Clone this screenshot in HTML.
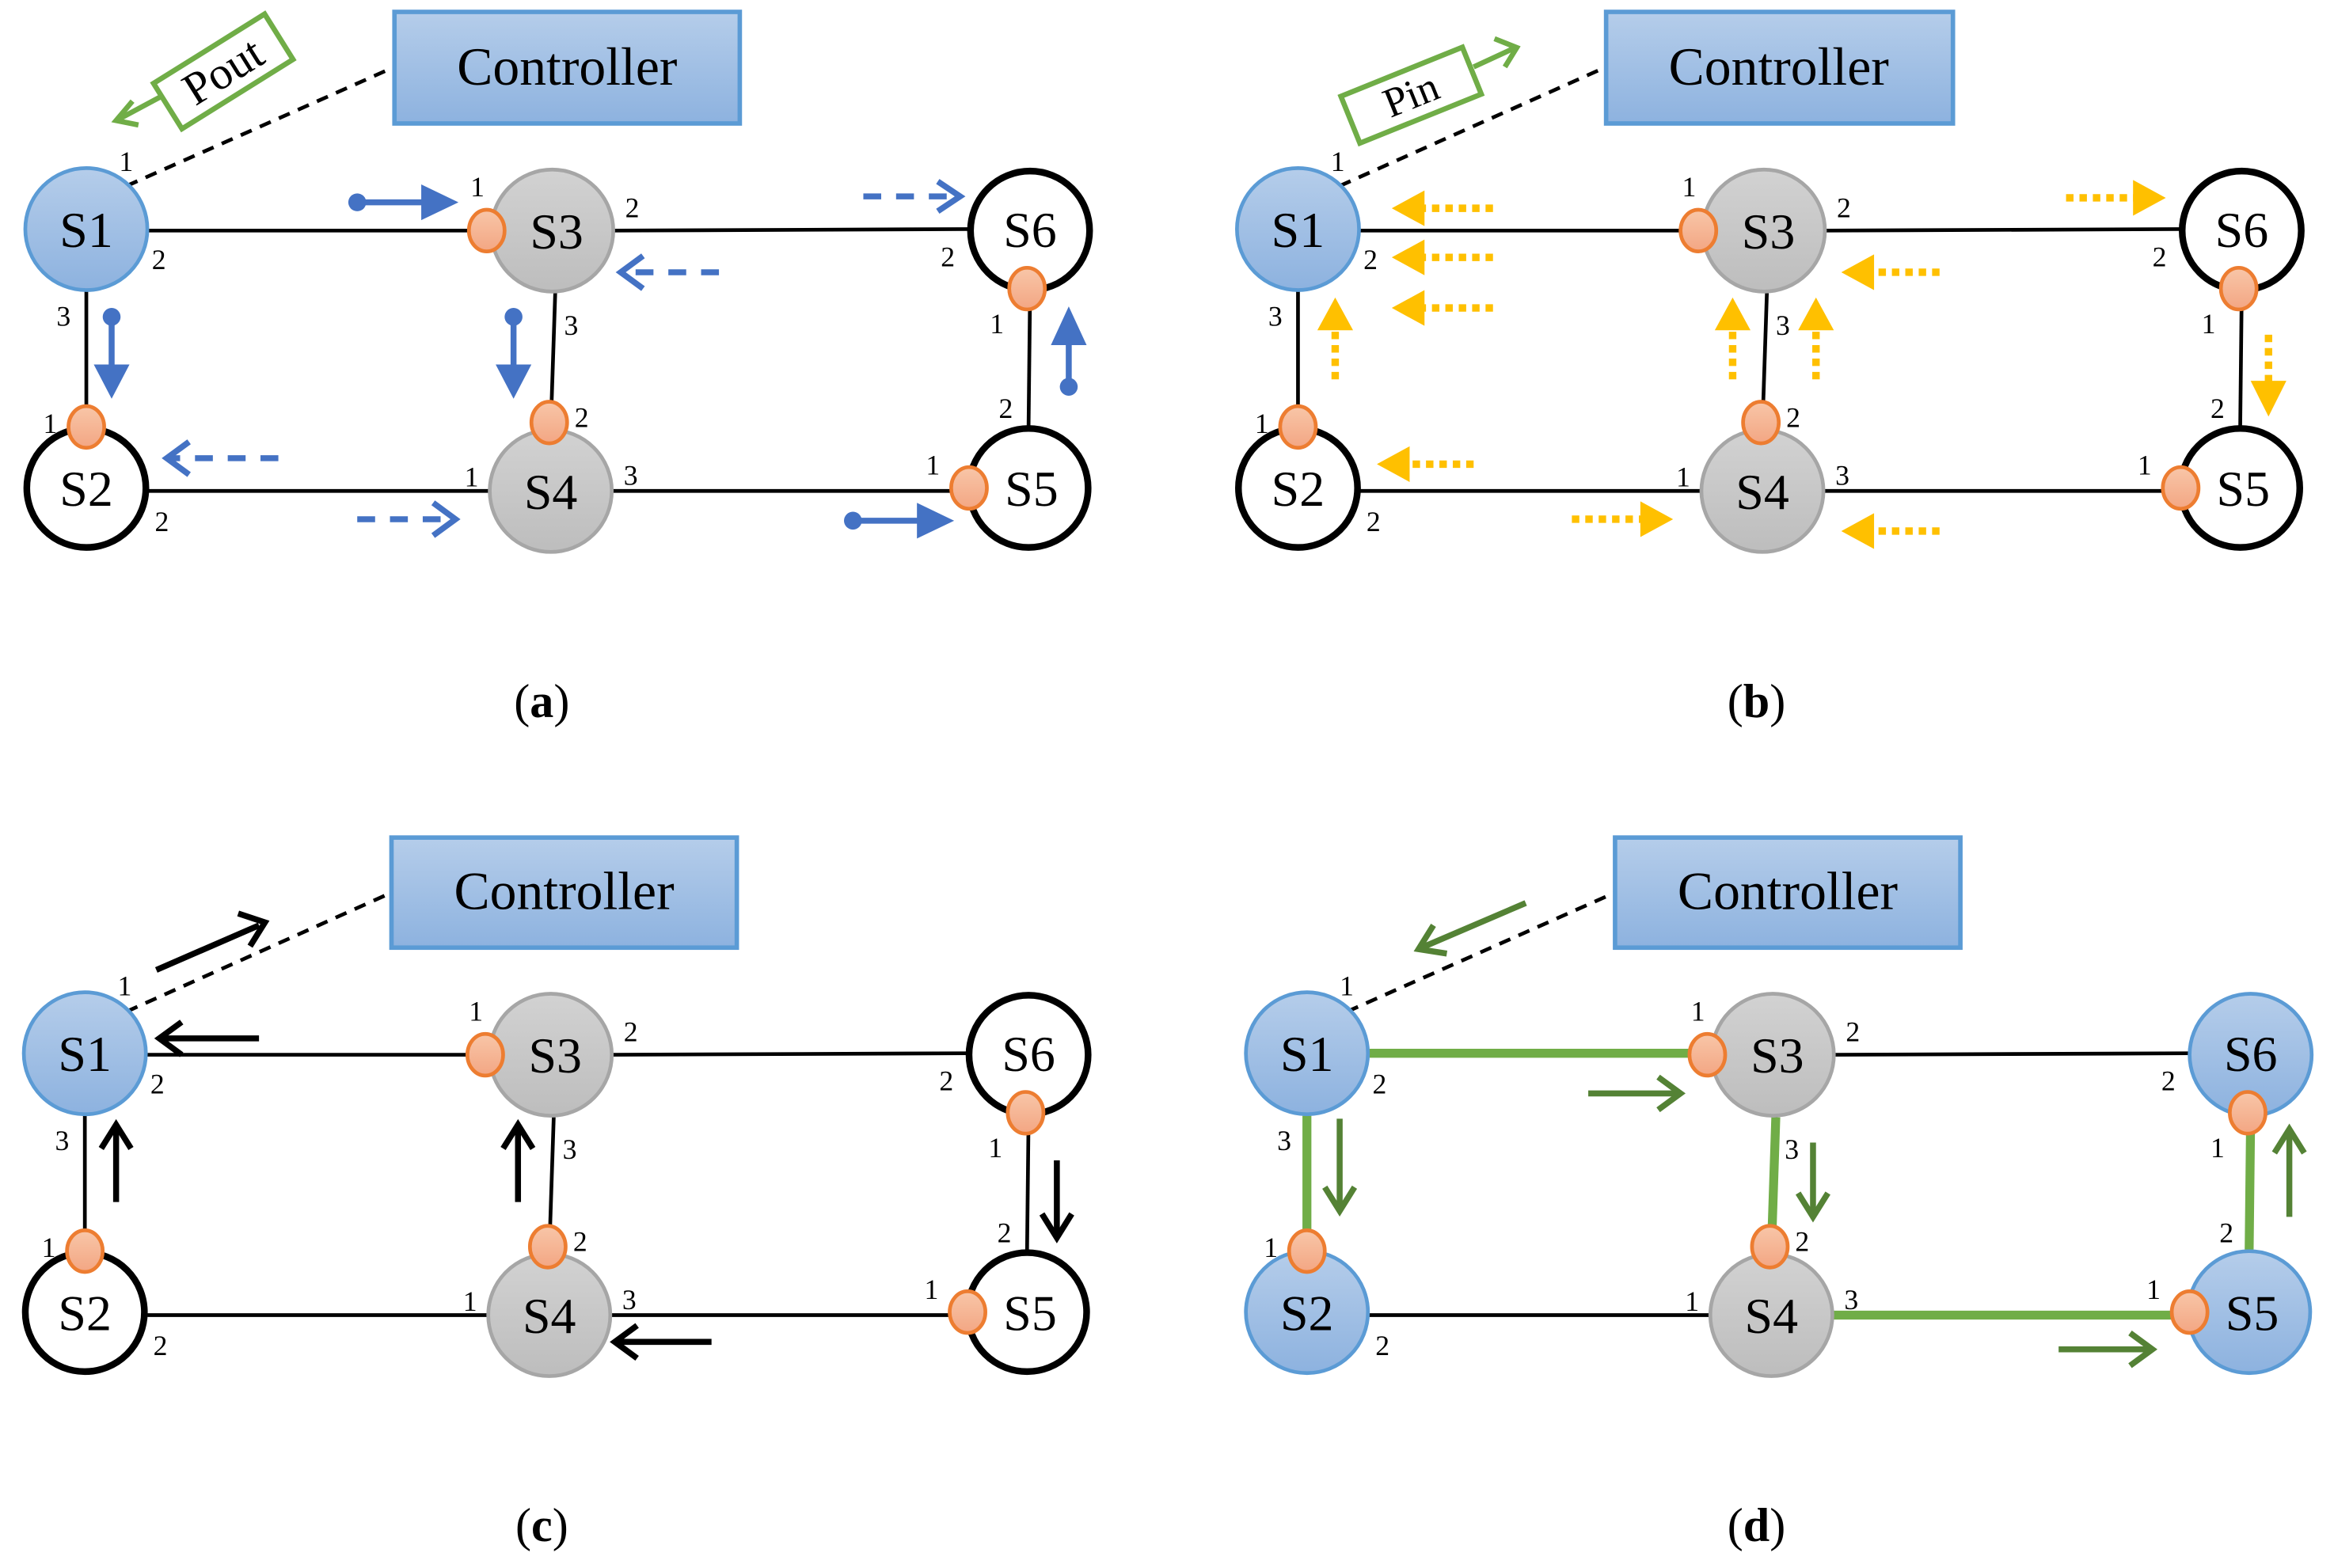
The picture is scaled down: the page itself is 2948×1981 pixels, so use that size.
<!DOCTYPE html>
<html><head><meta charset="utf-8"><style>
html,body{margin:0;padding:0;background:#fff;}
svg{display:block;font-family:"Liberation Serif",serif;}
svg text{font-family:"Liberation Serif",serif;fill:#000;}
</style></head><body>
<svg width="2948" height="1981" viewBox="0 0 1568 1054" preserveAspectRatio="none" xmlns="http://www.w3.org/2000/svg" font-family="Liberation Serif, serif">
<defs>
<linearGradient id="gb" x1="0" y1="0" x2="0" y2="1"><stop offset="0" stop-color="#b5cdea"/><stop offset="1" stop-color="#8db2df"/></linearGradient>
<linearGradient id="gg" x1="0" y1="0" x2="0" y2="1"><stop offset="0" stop-color="#d2d2d2"/><stop offset="1" stop-color="#bdbdbd"/></linearGradient>
<linearGradient id="go" x1="0" y1="0" x2="0" y2="1"><stop offset="0" stop-color="#f8c6a8"/><stop offset="1" stop-color="#f3a683"/></linearGradient>
<g id="links" stroke="#000" stroke-width="2.5" fill="none">
<line x1="100" y1="155" x2="330" y2="155"/>
<line x1="413" y1="155" x2="650" y2="154"/>
<line x1="58" y1="196" x2="58" y2="286"/>
<line x1="373" y1="197" x2="370" y2="288"/>
<line x1="692" y1="197" x2="691" y2="286"/>
<line x1="100" y1="330" x2="328" y2="330"/>
<line x1="412" y1="330" x2="650" y2="330"/>
</g>
<g id="plabels" font-size="19" font-family="Liberation Serif, serif" style="font-family:'Liberation Serif',serif">
<text x="80" y="115">1</text><text x="102" y="181">2</text><text x="38" y="219">3</text>
<text x="316" y="132">1</text><text x="420" y="146">2</text><text x="379" y="225">3</text>
<text x="632" y="179">2</text><text x="665" y="224">1</text>
<text x="671" y="281">2</text><text x="622" y="319">1</text>
<text x="29" y="291">1</text><text x="104" y="357">2</text>
<text x="312" y="327">1</text><text x="386" y="287">2</text><text x="419" y="326">3</text>
</g>
<g id="dots" fill="url(#go)" stroke="#ed7d31" stroke-width="2.5">
<ellipse cx="327" cy="155" rx="12" ry="14"/>
<ellipse cx="58" cy="287" rx="12" ry="14"/>
<ellipse cx="369" cy="284" rx="12" ry="14"/>
<ellipse cx="690" cy="194" rx="12" ry="14"/>
<ellipse cx="651" cy="328" rx="12" ry="14"/>
</g>
<g id="nlabels" font-size="34" text-anchor="middle" style="font-family:'Liberation Serif',serif"><text x="58" y="166">S1</text><text x="374" y="167">S3</text><text x="692" y="166">S6</text><text x="58" y="340">S2</text><text x="370" y="342">S4</text><text x="693" y="340">S5</text></g>
</defs>

<!-- ============ PANEL A ============ -->
<g>
<line x1="85" y1="125" x2="265" y2="45" stroke="#000" stroke-width="2.5" stroke-dasharray="8,6"/>
<rect x="265" y="8" width="232" height="75" fill="url(#gb)" stroke="#5b9bd5" stroke-width="3"/>
<text x="381" y="57" font-size="36" text-anchor="middle" style="font-family:'Liberation Serif',serif">Controller</text>
<use href="#links"/>
<circle cx="58" cy="154" r="41" fill="url(#gb)" stroke="#5b9bd5" stroke-width="2.5"/>
<circle cx="371" cy="155" r="41" fill="url(#gg)" stroke="#a6a6a6" stroke-width="2.5"/>
<circle cx="692" cy="155" r="40" fill="#fff" stroke="#000" stroke-width="4.5"/>
<circle cx="58" cy="328" r="40" fill="#fff" stroke="#000" stroke-width="4.5"/>
<circle cx="370" cy="330" r="41" fill="url(#gg)" stroke="#a6a6a6" stroke-width="2.5"/>
<circle cx="691" cy="328" r="40" fill="#fff" stroke="#000" stroke-width="4.5"/>
<use href="#dots"/>
<use href="#nlabels"/>
<use href="#plabels"/>
<g transform="translate(150,48) rotate(-32)">
<rect x="-44" y="-18" width="88" height="36" fill="#fff" stroke="#70ad47" stroke-width="3.5"/>
<text x="0" y="10" font-size="31" text-anchor="middle" style="font-family:'Liberation Serif',serif">Pout</text>
</g>
<g stroke="#70ad47" stroke-width="3.5" fill="none"><line x1="108" y1="65" x2="80" y2="80"/><polyline points="89,68 78,81 93,84"/></g>
<g fill="#4472c4" stroke="#4472c4" stroke-width="4">
<circle cx="240" cy="136" r="6" stroke="none"/><line x1="240" y1="136" x2="285" y2="136"/><polygon points="283,124 308,136 283,148" stroke="none"/>
<circle cx="75" cy="213" r="6" stroke="none"/><line x1="75" y1="213" x2="75" y2="248"/><polygon points="63,245 87,245 75,268" stroke="none"/>
<circle cx="345" cy="213" r="6" stroke="none"/><line x1="345" y1="213" x2="345" y2="248"/><polygon points="333,245 357,245 345,268" stroke="none"/>
<circle cx="718" cy="260" r="6" stroke="none"/><line x1="718" y1="260" x2="718" y2="228"/><polygon points="706,232 730,232 718,206" stroke="none"/>
<circle cx="573" cy="350" r="6" stroke="none"/><line x1="573" y1="350" x2="618" y2="350"/><polygon points="616,338 641,350 616,362" stroke="none"/>
</g>
<g stroke="#4472c4" stroke-width="4" fill="none">
<line x1="580" y1="132" x2="646" y2="132" stroke-dasharray="12,10"/><polyline points="630,122 645,132 630,142"/>
<line x1="483" y1="183" x2="417" y2="183" stroke-dasharray="12,10"/><polyline points="432,172 417,183 432,194"/>
<line x1="187" y1="308" x2="112" y2="308" stroke-dasharray="12,10"/><polyline points="127,297 112,308 127,319"/>
<line x1="240" y1="349" x2="306" y2="349" stroke-dasharray="12,10"/><polyline points="291,338 306,349 291,360"/>
</g>
<text x="364" y="482" font-size="32" text-anchor="middle" style="font-family:'Liberation Serif',serif">(<tspan font-weight="bold">a</tspan>)</text>
</g>

<!-- ============ PANEL B ============ -->
<g>
<line x1="900" y1="125" x2="1079" y2="45" stroke="#000" stroke-width="2.5" stroke-dasharray="8,6"/>
<rect x="1079" y="8" width="233" height="75" fill="url(#gb)" stroke="#5b9bd5" stroke-width="3"/>
<text x="1195" y="57" font-size="36" text-anchor="middle" style="font-family:'Liberation Serif',serif">Controller</text>
<g transform="translate(814,0)">
<use href="#links"/>
<circle cx="58" cy="154" r="41" fill="url(#gb)" stroke="#5b9bd5" stroke-width="2.5"/>
<circle cx="371" cy="155" r="41" fill="url(#gg)" stroke="#a6a6a6" stroke-width="2.5"/>
<circle cx="692" cy="155" r="40" fill="#fff" stroke="#000" stroke-width="4.5"/>
<circle cx="58" cy="328" r="40" fill="#fff" stroke="#000" stroke-width="4.5"/>
<circle cx="370" cy="330" r="41" fill="url(#gg)" stroke="#a6a6a6" stroke-width="2.5"/>
<circle cx="691" cy="328" r="40" fill="#fff" stroke="#000" stroke-width="4.5"/>
<use href="#dots"/>
<use href="#nlabels"/>
<use href="#plabels"/>
</g>
<g transform="translate(948,64) rotate(-22)">
<rect x="-44" y="-17" width="88" height="34" fill="#fff" stroke="#70ad47" stroke-width="3.5"/>
<text x="0" y="9" font-size="28" text-anchor="middle" style="font-family:'Liberation Serif',serif">Pin</text>
</g>
<g stroke="#70ad47" stroke-width="3.5" fill="none"><line x1="990" y1="45" x2="1018" y2="32"/><polyline points="1004,26 1019,32 1011,45"/></g>
<g stroke="#ffc000" stroke-width="5" stroke-dasharray="5,4" fill="none">
<line x1="1003" y1="140" x2="955" y2="140"/><line x1="1003" y1="173" x2="955" y2="173"/><line x1="1003" y1="207" x2="955" y2="207"/>
<line x1="1303" y1="183" x2="1257" y2="183"/><line x1="990" y1="312" x2="945" y2="312"/><line x1="1303" y1="357" x2="1257" y2="357"/>
<line x1="1388" y1="133" x2="1435" y2="133"/><line x1="1056" y1="349" x2="1104" y2="349"/>
<line x1="897" y1="255" x2="897" y2="220"/><line x1="1164" y1="255" x2="1164" y2="220"/><line x1="1220" y1="255" x2="1220" y2="220"/>
<line x1="1524" y1="225" x2="1524" y2="258"/>
</g>
<g fill="#ffc000">
<polygon points="957,128 957,152 935,140"/><polygon points="957,161 957,185 935,173"/><polygon points="957,195 957,219 935,207"/>
<polygon points="1259,171 1259,195 1237,183"/><polygon points="947,300 947,324 925,312"/><polygon points="1259,345 1259,369 1237,357"/>
<polygon points="1433,121 1433,145 1455,133"/><polygon points="1102,337 1102,361 1124,349"/>
<polygon points="885,222 909,222 897,200"/><polygon points="1152,222 1176,222 1164,200"/><polygon points="1208,222 1232,222 1220,200"/>
<polygon points="1512,256 1536,256 1524,280"/>
</g>
<text x="1180" y="482" font-size="32" text-anchor="middle" style="font-family:'Liberation Serif',serif">(<tspan font-weight="bold">b</tspan>)</text>
</g>

<!-- ============ PANEL C ============ -->
<g>
<line x1="85" y1="680" x2="263" y2="600" stroke="#000" stroke-width="2.5" stroke-dasharray="8,6"/>
<rect x="263" y="563" width="232" height="74" fill="url(#gb)" stroke="#5b9bd5" stroke-width="3"/>
<text x="379" y="611" font-size="36" text-anchor="middle" style="font-family:'Liberation Serif',serif">Controller</text>
<g transform="translate(-1,554)">
<use href="#links"/>
<circle cx="58" cy="154" r="41" fill="url(#gb)" stroke="#5b9bd5" stroke-width="2.5"/>
<circle cx="371" cy="155" r="41" fill="url(#gg)" stroke="#a6a6a6" stroke-width="2.5"/>
<circle cx="692" cy="155" r="40" fill="#fff" stroke="#000" stroke-width="4.5"/>
<circle cx="58" cy="328" r="40" fill="#fff" stroke="#000" stroke-width="4.5"/>
<circle cx="370" cy="330" r="41" fill="url(#gg)" stroke="#a6a6a6" stroke-width="2.5"/>
<circle cx="691" cy="328" r="40" fill="#fff" stroke="#000" stroke-width="4.5"/>
<use href="#dots"/>
<use href="#nlabels"/>
<use href="#plabels"/>
</g>
<g stroke="#000" fill="none" stroke-width="4">
<line x1="105" y1="652" x2="174" y2="622"/><line x1="106" y1="656" x2="172" y2="627" stroke="#fff" stroke-width="1.5"/><polyline points="160,614 178,620 168,636"/>
<line x1="174" y1="698" x2="108" y2="698"/><polyline points="122,687 107,698 122,709"/>
<line x1="78" y1="808" x2="78" y2="757"/><polyline points="68,772 78,756 88,772"/>
<line x1="348" y1="808" x2="348" y2="757"/><polyline points="338,772 348,756 358,772"/>
<line x1="710" y1="780" x2="710" y2="831"/><polyline points="700,816 710,832 720,816"/>
<line x1="478" y1="902" x2="414" y2="902"/><polyline points="428,891 413,902 428,913"/>
</g>
<text x="364" y="1036" font-size="32" text-anchor="middle" style="font-family:'Liberation Serif',serif">(<tspan font-weight="bold">c</tspan>)</text>
</g>

<!-- ============ PANEL D ============ -->
<g>
<line x1="905" y1="680" x2="1085" y2="600" stroke="#000" stroke-width="2.5" stroke-dasharray="8,6"/>
<rect x="1085" y="563" width="232" height="74" fill="url(#gb)" stroke="#5b9bd5" stroke-width="3"/>
<text x="1201" y="611" font-size="36" text-anchor="middle" style="font-family:'Liberation Serif',serif">Controller</text>
<g transform="translate(820,554)">
<use href="#links"/>
<g stroke="#70ad47" stroke-width="6" fill="none">
<line x1="100" y1="154" x2="330" y2="154"/>
<line x1="58" y1="196" x2="58" y2="286"/>
<line x1="373" y1="197" x2="370" y2="288"/>
<line x1="412" y1="330" x2="650" y2="330"/>
<line x1="692" y1="197" x2="691" y2="286"/>
</g>
<circle cx="58" cy="154" r="41" fill="url(#gb)" stroke="#5b9bd5" stroke-width="2.5"/>
<circle cx="371" cy="155" r="41" fill="url(#gg)" stroke="#a6a6a6" stroke-width="2.5"/>
<circle cx="692" cy="155" r="41" fill="url(#gb)" stroke="#5b9bd5" stroke-width="2.5"/>
<circle cx="58" cy="328" r="41" fill="url(#gb)" stroke="#5b9bd5" stroke-width="2.5"/>
<circle cx="370" cy="330" r="41" fill="url(#gg)" stroke="#a6a6a6" stroke-width="2.5"/>
<circle cx="691" cy="328" r="41" fill="url(#gb)" stroke="#5b9bd5" stroke-width="2.5"/>
<use href="#dots"/>
<use href="#nlabels"/>
<use href="#plabels"/>
</g>
<g stroke="#548235" fill="none" stroke-width="4">
<line x1="1025" y1="607" x2="955" y2="637"/><polyline points="963,622 953,638 972,641"/>
<line x1="1067" y1="735" x2="1128" y2="735"/><polyline points="1114,724 1129,735 1114,746"/>
<line x1="900" y1="752" x2="900" y2="813"/><polyline points="890,798 900,814 910,798"/>
<line x1="1218" y1="768" x2="1218" y2="817"/><polyline points="1208,802 1218,818 1228,802"/>
<line x1="1538" y1="818" x2="1538" y2="760"/><polyline points="1528,775 1538,759 1548,775"/>
<line x1="1383" y1="907" x2="1445" y2="907"/><polyline points="1431,896 1446,907 1431,918"/>
</g>
<text x="1180" y="1036" font-size="32" text-anchor="middle" style="font-family:'Liberation Serif',serif">(<tspan font-weight="bold">d</tspan>)</text>
</g>
</svg>
</body></html>
